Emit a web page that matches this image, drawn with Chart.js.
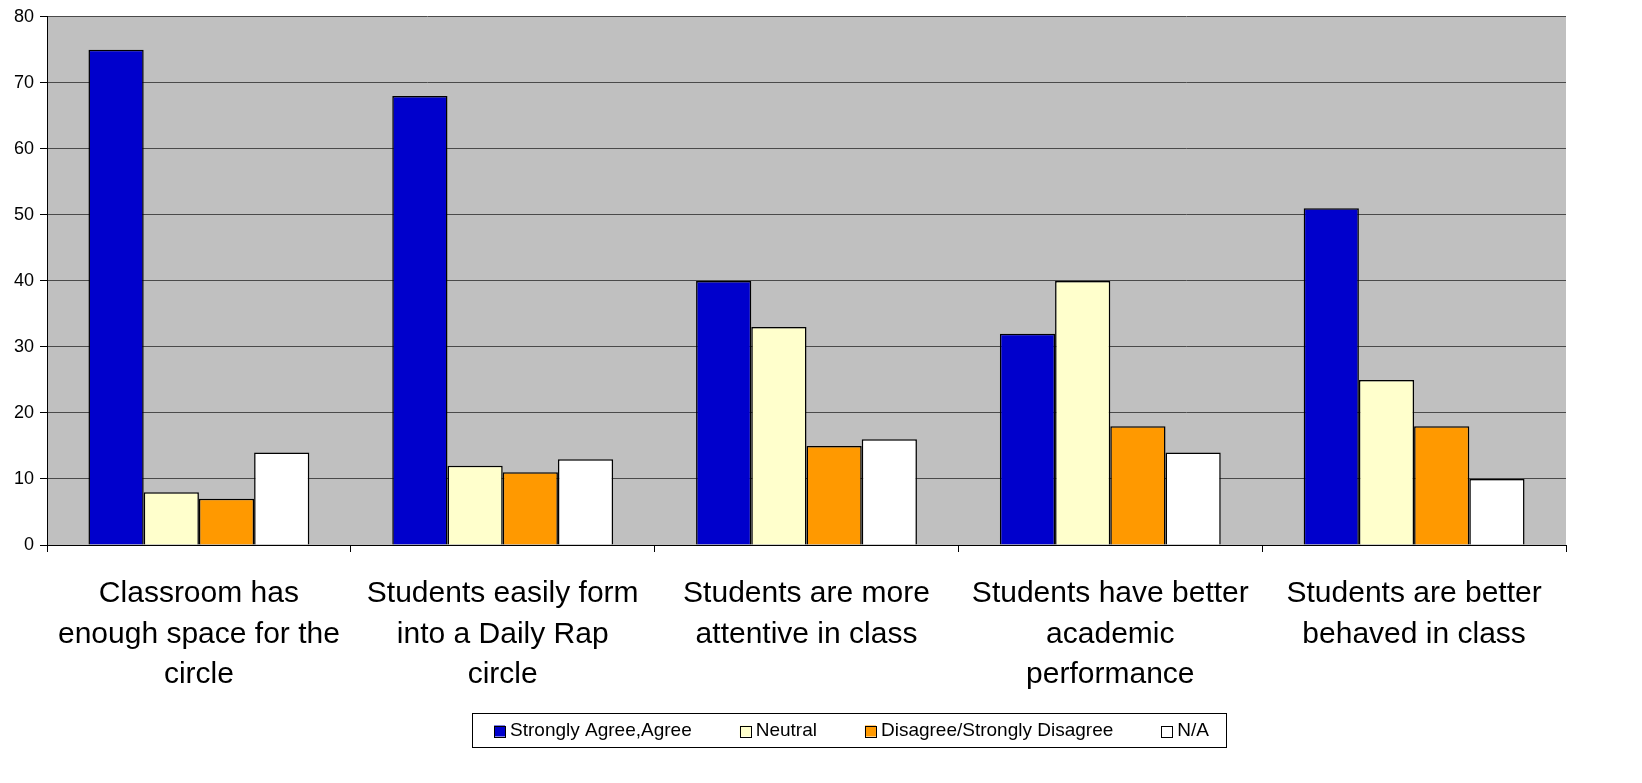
<!DOCTYPE html>
<html>
<head>
<meta charset="utf-8">
<script src="https://cdn.jsdelivr.net/npm/chart.js@4"></script>
<style>
  html, body { margin: 0; padding: 0; background: #fff; }
  canvas { display: block; }
</style>
</head>
<body>
<canvas id="rapChart" width="1642" height="783"></canvas>
<script>
const FONT = "'Liberation Sans', Arial, Helvetica, sans-serif";

const statements = [
  ["Classroom has", "enough space for the", "circle"],
  ["Students easily form", "into a Daily Rap", "circle"],
  ["Students are more", "attentive in class"],
  ["Students have better", "academic", "performance"],
  ["Students are better", "behaved in class"],
];
const agree = [75, 68, 40, 32, 51];
const neutral = [8, 12, 33, 40, 25];
const disagree = [7, 11, 15, 18, 18];
const notApplicable = [14, 13, 16, 14, 10];

const yTicks = [0, 10, 20, 30, 40, 50, 60, 70, 80];

// gray plot area like old Excel charts
const plotBackground = {
  id: "plotBackground",
  beforeDraw(chart) {
    const { ctx, chartArea: a } = chart;
    ctx.save();
    ctx.fillStyle = "#C0C0C0";
    ctx.fillRect(a.left, a.top, a.right - a.left, a.bottom - a.top);
    ctx.restore();
  },
};

// boxed legend at the bottom
const boxLegend = {
  id: "boxLegend",
  afterDraw(chart) {
    const ctx = chart.ctx;
    const sets = chart.data.datasets;
    const sq = 11, gap = 5, spacing = 48, padX = 22;
    ctx.save();
    ctx.font = "19px " + FONT;
    const widths = sets.map((d) => sq + gap + ctx.measureText(d.label).width);
    const inner = widths.reduce((s, w) => s + w, 0) + spacing * (sets.length - 1);
    const boxW = inner + padX * 2 - 5;
    const boxH = 34;
    const cx = 849, top = 713;
    const left = cx - boxW / 2;
    ctx.strokeStyle = "#000";
    ctx.lineWidth = 1;
    ctx.strokeRect(Math.round(left) + 0.5, top + 0.5, Math.round(boxW), boxH);
    let x = left + padX;
    const midY = top + boxH / 2 + 1;
    sets.forEach((d, i) => {
      ctx.fillStyle = d.backgroundColor;
      ctx.fillRect(x, midY - sq / 2, sq, sq);
      ctx.strokeStyle = "#000";
      ctx.strokeRect(Math.round(x) + 0.5, Math.round(midY - sq / 2) + 0.5, sq, sq);
      ctx.fillStyle = "#000";
      ctx.textBaseline = "middle";
      ctx.fillText(d.label, x + sq + gap, midY);
      x += widths[i] + spacing;
    });
    ctx.restore();
  },
};

const data = {
  labels: statements,
  datasets: [
    { label: "Strongly Agree,Agree", data: agree, backgroundColor: "#0000CC" },
    { label: "Neutral", data: neutral, backgroundColor: "#FFFFCC" },
    { label: "Disagree/Strongly Disagree", data: disagree, backgroundColor: "#FF9900" },
    { label: "N/A", data: notApplicable, backgroundColor: "#FFFFFF" },
  ].map((d) => ({
    ...d,
    borderColor: "#000",
    borderWidth: 1.5,
    borderSkipped: "bottom",
    barPercentage: 1,
    categoryPercentage: 0.727,
  })),
};

const config = {
  type: "bar",
  data: data,
  options: {
    responsive: false,
    animation: false,
    devicePixelRatio: 1,
    layout: { padding: { top: 16, right: 76, bottom: 78, left: 0 } },
    plugins: {
      legend: { display: false },
      tooltip: { enabled: false },
    },
    scales: {
      x: {
        afterFit(scale) { scale.height = 160; },
        grid: {
          offset: true,
          drawOnChartArea: false,
          drawTicks: true,
          tickLength: 7,
          tickColor: "#000",
        },
        border: { color: "#000", width: 1 },
        ticks: {
          color: "#000",
          padding: 22,
          maxRotation: 0,
          autoSkip: false,
          font: { family: FONT, size: 30, lineHeight: 1.34 },
        },
      },
      y: {
        min: 0,
        max: 80,
        afterFit(scale) { scale.width = 47; },
        afterBuildTicks(scale) { scale.ticks = yTicks.map((v) => ({ value: v })); },
        grid: {
          color: "#4a4a4a",
          lineWidth: 1,
          drawTicks: true,
          tickLength: 7,
          tickColor: "#000",
        },
        border: { color: "#000", width: 1 },
        ticks: {
          color: "#000",
          padding: 6,
          font: { family: FONT, size: 18 },
        },
      },
    },
  },
  plugins: [plotBackground, boxLegend],
};

const rapChart = new Chart(document.getElementById("rapChart"), config);
</script>
</body>
</html>
